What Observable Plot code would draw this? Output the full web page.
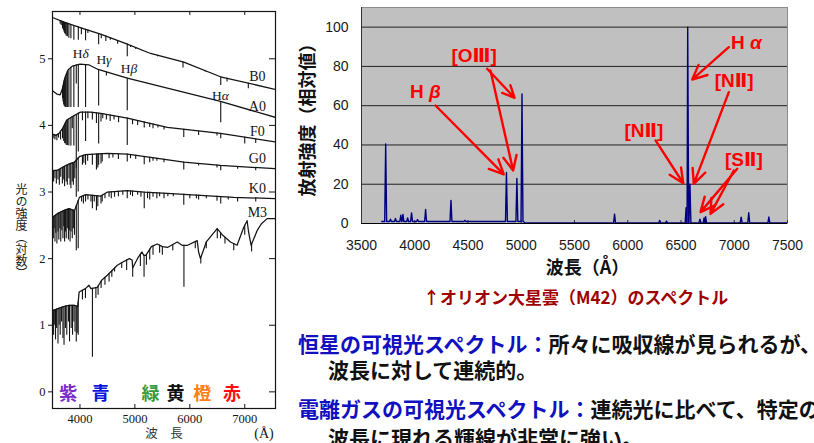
<!DOCTYPE html>
<html>
<head>
<meta charset="utf-8">
<script src="https://cdn.jsdelivr.net/npm/d3@7"></script>
<script src="https://cdn.jsdelivr.net/npm/@observablehq/plot@0.6"></script>
<style>
  body { margin: 0; background: #fff; }
  #page { position: relative; width: 814px; height: 443px; overflow: hidden; background: #fff; }
  .abs { position: absolute; white-space: nowrap; }
  .jp { font-family: "Noto Sans CJK JP", sans-serif; font-weight: bold; }
  .blue { color: #1010c0; }
</style>
</head>
<body>
<div id="page">
  <div id="stellar" class="abs" style="left:0;top:0"></div>
  <div class="abs" style="left:15px;top:183px;writing-mode:vertical-rl;font-family:'Noto Sans CJK JP',sans-serif;font-size:12px;line-height:12px;color:#1a1a1a">光の強度（対数）</div>
  <div id="nebula" class="abs" style="left:290px;top:0"></div>
  <div class="abs jp" style="left:423px;top:287px;font-size:17px;line-height:20px;color:#a00000">↑オリオン大星雲（M42）のスペクトル</div>
  <div class="abs jp" style="left:298px;top:331px;font-size:21px;line-height:24px;color:#111"><span class="blue">恒星の可視光スペクトル：</span>所々に吸収線が見られるが、</div>
  <div class="abs jp" style="left:328px;top:357px;font-size:21px;line-height:24px;color:#111">波長に対して連続的。</div>
  <div class="abs jp" style="left:298px;top:396px;font-size:21px;line-height:24px;color:#111"><span class="blue">電離ガスの可視光スペクトル：</span>連続光に比べて、特定の</div>
  <div class="abs jp" style="left:328px;top:425px;font-size:21px;line-height:24px;color:#111">波長に現れる輝線が非常に強い。</div>
</div>
<script>
// ---------- Stellar spectra (log intensity, offset per spectral type) ----------
const stellarXTicks = [4000, 5000, 6000, 7000];
const stellarYTicks = [0, 1, 2, 3, 4, 5];

// continuum knots [wavelength Å, log intensity] and absorption lines [wavelength Å, line bottom]
const b0Continuum = [[3500,5.62],[3710,5.55],[4073,5.45],[4376,5.37],[4862,5.22],[5285,5.08],[5891,4.95],[6558,4.73],[7560,4.54]];
const b0Absorption = [[3640,5.52],[3660,5.50],[3683,5.46],[3692,5.44],[3704,5.42],[3712,5.40],[3722,5.38],[3734,5.36],[3750,5.34],[3771,5.33],[3798,5.31],[3835,5.30],[3889,5.28],[3970,5.28],[4026,5.36],[4102,5.27],[4144,5.38],[4340,5.21],[4388,5.30],[4471,5.26],[4553,5.28],[4686,5.22],[4861,5.03],[4922,5.17],[5016,5.14],[5412,5.03],[5876,4.86],[6280,4.80],[6563,4.60],[6678,4.65],[7065,4.55]];

const a0Continuum = [[3500,4.52],[3580,4.47],[3640,4.46],[3680,4.55],[3720,4.70],[3780,4.83],[3860,4.89],[4000,4.92],[4160,4.91],[4330,4.84],[4862,4.71],[5590,4.56],[6558,4.36],[7560,4.12]];
const a0Absorption = [[3683,4.40],[3692,4.35],[3704,4.31],[3712,4.29],[3722,4.28],[3734,4.27],[3750,4.27],[3771,4.27],[3798,4.27],[3835,4.27],[3889,4.27],[3933,4.62],[3970,4.27],[4102,4.27],[4340,4.29],[4481,4.74],[4861,4.22],[6563,4.04]];

const f0Continuum = [[3500,3.87],[3560,3.85],[3620,3.88],[3680,3.95],[3760,4.08],[3880,4.14],[4010,4.20],[4190,4.20],[4380,4.18],[4862,4.11],[5590,3.97],[6558,3.88],[7560,3.75]];
const f0Absorption = [[3525,3.80],[3545,3.78],[3580,3.77],[3610,3.81],[3647,3.78],[3683,3.80],[3704,3.76],[3722,3.73],[3734,3.72],[3750,3.70],[3771,3.70],[3798,3.69],[3835,3.69],[3860,3.95],[3889,3.69],[3933,3.35],[3970,3.60],[4045,4.07],[4102,3.76],[4144,4.10],[4226,4.08],[4300,4.03],[4340,3.72],[4383,4.05],[4415,4.10],[4481,4.08],[4550,4.06],[4620,4.08],[4703,4.04],[4861,3.70],[4957,4.01],[5050,4.00],[5170,3.96],[5270,3.97],[5330,3.95],[5420,3.96],[5530,3.93],[5890,3.82],[6160,3.85],[6495,3.84],[6563,3.80],[7000,3.72],[7200,3.73]];

const g0Continuum = [[3500,3.32],[3600,3.33],[3700,3.38],[3800,3.42],[3900,3.45],[3990,3.53],[4100,3.56],[4500,3.58],[4862,3.57],[5285,3.52],[5891,3.45],[6558,3.40],[7560,3.35]];
const g0Absorption = [[3520,3.15],[3545,3.20],[3570,3.12],[3600,3.18],[3625,3.10],[3650,3.22],[3680,3.12],[3705,3.18],[3720,3.08],[3750,3.15],[3770,3.10],[3800,3.20],[3820,3.10],[3835,3.05],[3860,3.15],[3880,3.10],[3905,3.20],[3933,2.92],[3968,3.00],[4045,3.40],[4070,3.43],[4102,3.40],[4140,3.46],[4226,3.40],[4300,3.33],[4325,3.36],[4340,3.40],[4383,3.42],[4405,3.45],[4530,3.50],[4600,3.51],[4700,3.49],[4861,3.45],[4920,3.50],[5015,3.49],[5170,3.41],[5270,3.44],[5330,3.46],[5400,3.46],[5530,3.44],[5890,3.33],[6160,3.39],[6495,3.36],[6563,3.32],[6870,3.34],[7200,3.32]];

const k0Continuum = [[3500,2.62],[3600,2.68],[3700,2.72],[3800,2.75],[3900,2.72],[3990,2.92],[4100,2.96],[4380,2.94],[4500,3.00],[4862,3.02],[5164,3.00],[5589,2.98],[6194,2.95],[6800,2.92],[7560,2.90]];
const k0Absorption = [[3515,2.30],[3530,2.45],[3545,2.25],[3560,2.38],[3580,2.22],[3600,2.40],[3615,2.28],[3635,2.45],[3650,2.25],[3670,2.42],[3690,2.30],[3705,2.48],[3720,2.25],[3735,2.40],[3750,2.30],[3770,2.45],[3790,2.28],[3805,2.42],[3820,2.25],[3838,2.40],[3860,2.30],[3880,2.45],[3900,2.35],[3933,2.12],[3968,2.15],[4030,2.85],[4063,2.82],[4102,2.85],[4145,2.88],[4200,2.85],[4226,2.75],[4260,2.85],[4300,2.72],[4325,2.78],[4383,2.82],[4405,2.85],[4455,2.90],[4530,2.92],[4570,2.90],[4630,2.92],[4700,2.93],[4780,2.95],[4861,2.90],[4920,2.95],[4957,2.93],[5050,2.95],[5110,2.92],[5170,2.75],[5230,2.90],[5270,2.88],[5330,2.92],[5400,2.90],[5450,2.93],[5530,2.90],[5600,2.93],[5700,2.93],[5890,2.80],[6000,2.90],[6120,2.90],[6160,2.88],[6300,2.90],[6495,2.86],[6563,2.82],[6700,2.88],[6870,2.85],[7200,2.85]];

const m3Continuum = [[3500,1.22],[3600,1.25],[3700,1.28],[3800,1.30],[3900,1.30],[3960,1.28],[3985,1.50],[4100,1.55],[4164,1.60],[4200,1.55],[4316,1.57],[4400,1.68],[4498,1.75],[4680,1.90],[4780,1.95],[4900,2.00],[4950,1.98],[4960,1.86],[5060,2.02],[5130,2.10],[5160,2.05],[5200,2.05],[5300,2.18],[5407,2.22],[5500,2.18],[5600,2.17],[5771,2.25],[5860,2.20],[5960,2.20],[6134,2.27],[6160,2.10],[6194,2.00],[6300,2.25],[6498,2.45],[6600,2.35],[6740,2.25],[6861,2.20],[6982,2.47],[7043,2.57],[7070,2.40],[7116,2.20],[7225,2.42],[7300,2.52],[7407,2.60],[7560,2.60]];
const m3Absorption = [[3520,0.85],[3540,1.00],[3555,0.78],[3575,0.95],[3600,0.72],[3620,1.00],[3640,0.85],[3665,1.05],[3690,0.80],[3710,0.70],[3735,0.95],[3760,0.85],[3790,1.05],[3810,0.75],[3840,0.95],[3865,0.85],[3890,1.05],[3910,0.90],[3933,0.75],[3950,0.88],[3968,0.85],[4045,1.38],[4100,1.40],[4227,0.52],[4290,1.40],[4330,1.45],[4385,1.55],[4455,1.60],[4530,1.65],[4580,1.72],[4630,1.80],[4760,1.85],[4850,1.82],[4960,1.72],[5100,1.88],[5167,1.72],[5210,1.90],[5270,1.98],[5330,2.05],[5450,2.08],[5500,2.05],[5690,2.12],[5893,1.57],[6100,2.15],[6200,1.92],[6300,2.15],[6500,2.30],[6560,2.30],[6640,2.22],[6800,2.12],[7000,2.35],[7125,2.10]];

const spectralTypes = ["B0", "A0", "F0", "G0", "K0", "M3"];
const typeLabelX = [7230, 7230, 7230, 7230, 7230, 7230];
const typeLabelY = [4.73, 4.28, 3.91, 3.50, 3.05, 2.69];

const balmerNames = ["Hδ", "Hγ", "Hβ", "Hα"];
const balmerLabelX = [4013, 4436, 4891, 6558];
const balmerLabelY = [5.07, 4.98, 4.85, 4.45];

const colorNames = ["紫", "青", "緑", "黄", "橙", "赤"];
const colorNameX = [3789, 4376, 5285, 5740, 6225, 6767];
const colorNameFill = ["#7a2cc8", "#0a14e0", "#3a9a3a", "#111111", "#ff7f10", "#ff1010"];

// ---------- Orion Nebula (M42) emission spectrum ----------
const nebulaXTicks = [3500, 4000, 4500, 5000, 5500, 6000, 6500, 7000, 7500];
const nebulaYTicks = [0, 20, 40, 60, 80, 100];
const nebulaGrid = [20, 40, 60, 80, 100];
const nebulaContinuum = [[3690, 1.0], [5020, 1.0], [5035, 0.3], [7500, 0.3]];
const emissionWavelengths = [3727,3772,3819,3869,3889,3933,3970,4026,4102,4340,4471,4861,4959,5007,5876,6300,6364,6548,6563,6584,6678,6717,6731,7065,7136,7325];
const emissionPeaks = [40.5,2.2,2.5,4.2,4.6,2.8,5.4,2.0,7.2,11.8,1.6,26,23,66,4.8,1.6,1.2,8,100,20,2.2,2.8,3.5,3.2,5.5,3.3];

const lineNames = ["H β", "[OⅢ]", "H α", "[NⅡ]", "[NⅡ]", "[SⅡ]"];
const lineNameX = [4101, 4558, 7113, 6999, 6151, 7090];
const lineNameY = [66.9, 85.5, 91.9, 72.4, 47.4, 32.6];
const arrowFromX = [4195, 4680, 4711, 6949, 6949, 6261, 7028, 6996];
const arrowFromY = [60.1, 78.8, 77.9, 89.8, 66.9, 42.3, 27.9, 27.0];
const arrowToX = [4836, 4937, 4924, 6605, 6620, 6521, 6683, 6777];
const arrowToY = [25.0, 64.0, 27.0, 73.3, 20.2, 20.5, 5.8, 4.9];

// ---------- helpers ----------
const ink = "#141414";
const serif = "'Liberation Serif', 'DejaVu Serif', serif";
const cjk = "'Noto Sans CJK JP', sans-serif";
const sansBold = "'Liberation Sans', 'DejaVu Sans', 'Noto Sans CJK JP', sans-serif";
const plain = d => String(d);

// piecewise-linear path through continuum knots, used to hang each absorption line on its spectrum
const along = (knots) => d3.scaleLinear().domain(knots.map(k => k[0])).range(knots.map(k => k[1])).clamp(true);

function italicGreek(svg) {
  const ns = "http://www.w3.org/2000/svg";
  svg.querySelectorAll("text").forEach(t => {
    if (t.children.length) return;
    const s = t.textContent;
    if (!/[αβγδ]/.test(s)) return;
    t.textContent = "";
    for (const part of s.split(/([αβγδ])/)) {
      if (!part) continue;
      const ts = document.createElementNS(ns, "tspan");
      ts.textContent = part;
      if (/[αβγδ]/.test(part)) ts.setAttribute("font-style", "italic");
      t.appendChild(ts);
    }
  });
}

// ---------- stellar panel ----------
const stars = [
  [b0Continuum, b0Absorption], [a0Continuum, a0Absorption], [f0Continuum, f0Absorption],
  [g0Continuum, g0Absorption], [k0Continuum, k0Absorption], [m3Continuum, m3Absorption]
];
const starMarks = stars.flatMap(([cont, dips]) => {
  const c = along(cont);
  return [
    Plot.line(cont, {x: d => d[0], y: d => d[1], stroke: ink, strokeWidth: 1.25, clip: true}),
    Plot.ruleX(dips, {x: d => d[0], y1: d => c(d[0]), y2: d => d[1], stroke: ink, strokeWidth: 1.1, clip: true})
  ];
});

const plotW = 290 - 52 - 15, plotH = 443 - 11 - 35;
const stellar = Plot.plot({
  width: 290, height: 443,
  marginLeft: 52, marginRight: 15, marginTop: 11, marginBottom: 35,
  x: {domain: [3500, 7560], label: null},
  y: {domain: [-0.25, 5.71], label: null},
  style: {fontFamily: serif, fontSize: "12.5px", color: ink, background: "#fff"},
  marks: [
    Plot.frame({stroke: ink, strokeWidth: 1.2}),
    Plot.axisY(stellarYTicks, {anchor: "left", tickSize: 4, tickPadding: 3, tickFormat: plain, label: null}),
    Plot.tickY(stellarYTicks, {y: d => d, insetLeft: plotW - 6, stroke: ink}),
    Plot.axisX(stellarXTicks, {anchor: "bottom", tickSize: 0, tickPadding: 6, tickFormat: plain, label: null}),
    Plot.tickX(stellarXTicks, {x: d => d, insetTop: plotH - 4, stroke: ink}),
    Plot.tickX(stellarXTicks, {x: d => d, insetBottom: plotH - 4, stroke: ink}),
    ...starMarks,
    Plot.text(spectralTypes, {x: (d, i) => typeLabelX[i], y: (d, i) => typeLabelY[i], text: d => d, fontSize: 14, fill: ink}),
    Plot.text(balmerNames, {x: (d, i) => balmerLabelX[i], y: (d, i) => balmerLabelY[i], text: d => d, fontSize: 13.5, fill: ink}),
    Plot.text(colorNames, {x: (d, i) => colorNameX[i], y: 0, dy: 2, text: d => d, fill: (d, i) => colorNameFill[i], fontSize: 18, fontWeight: "bold", fontFamily: cjk}),
    Plot.text(["波　長"], {frameAnchor: "bottom", textAnchor: "middle", dy: 29, text: d => d, fontSize: 12.5, fontFamily: cjk, fill: "#333"}),
    Plot.text(["(Å)"], {frameAnchor: "bottom", textAnchor: "middle", dx: 100, dy: 29, text: d => d, fontSize: 14, fill: ink})
  ]
});
italicGreek(stellar);
document.getElementById("stellar").append(stellar);

// ---------- nebula panel ----------
const base = along(nebulaContinuum);
const HW = 9;
const spectrum = nebulaContinuum.map(([w, v]) => ({w, v}));
emissionWavelengths.forEach((w, i) => {
  spectrum.push({w: w - HW, v: base(w - HW)}, {w, v: emissionPeaks[i]}, {w: w + HW, v: base(w + HW)});
});
spectrum.sort((a, b) => a.w - b.w);

const nebH = 280 - 7 - 57;
const nebula = Plot.plot({
  width: 524, height: 280,
  marginLeft: 71, marginRight: 27, marginTop: 7, marginBottom: 57,
  x: {domain: [3500, 7500], label: null},
  y: {domain: [0, 110], label: null},
  style: {fontFamily: "'Liberation Sans', Arial, sans-serif", fontSize: "14px", color: "#1a1a1a", background: "transparent"},
  marks: [
    Plot.frame({fill: "#c0c0c0", stroke: "#8c8c8c"}),
    Plot.gridY(nebulaGrid, {stroke: "#111", strokeOpacity: 0.9, strokeWidth: 1}),
    Plot.axisY(nebulaYTicks, {anchor: "left", tickSize: 0, tickPadding: 13, tickFormat: plain, label: null}),
    Plot.axisX(nebulaXTicks, {anchor: "bottom", tickSize: 0, tickPadding: 17, tickFormat: plain, label: null}),
    Plot.tickX(nebulaXTicks, {x: d => d, insetTop: nebH - 3, stroke: "#333"}),
    Plot.ruleX([3500], {stroke: "#333"}),
    Plot.ruleY([0], {stroke: "#000"}),
    Plot.line(spectrum, {x: "w", y: "v", stroke: "#000080", strokeWidth: 1.4, clip: true}),
    Plot.arrow(arrowFromX, {x1: (d, i) => arrowFromX[i], y1: (d, i) => arrowFromY[i], x2: (d, i) => arrowToX[i], y2: (d, i) => arrowToY[i], stroke: "#ff0000", strokeWidth: 2.4, headLength: 10, headAngle: 50}),
    Plot.text(lineNames, {x: (d, i) => lineNameX[i], y: (d, i) => lineNameY[i], text: d => d, fill: "#ff0000", fontSize: 19, fontWeight: "bold", fontFamily: sansBold}),
    Plot.text(["放射強度（相対値）"], {frameAnchor: "left", textAnchor: "middle", lineAnchor: "middle", rotate: -90, dx: -53, text: d => d, fontSize: 18, fontWeight: "bold", fontFamily: cjk, fill: "#111"}),
    Plot.text(["波長（Å）"], {frameAnchor: "bottom", textAnchor: "middle", lineAnchor: "middle", dx: 13, dy: 45, text: d => d, fontSize: 18, fontWeight: "bold", fontFamily: cjk, fill: "#111"})
  ]
});
italicGreek(nebula);
document.getElementById("nebula").append(nebula);
</script>
</body>
</html>
